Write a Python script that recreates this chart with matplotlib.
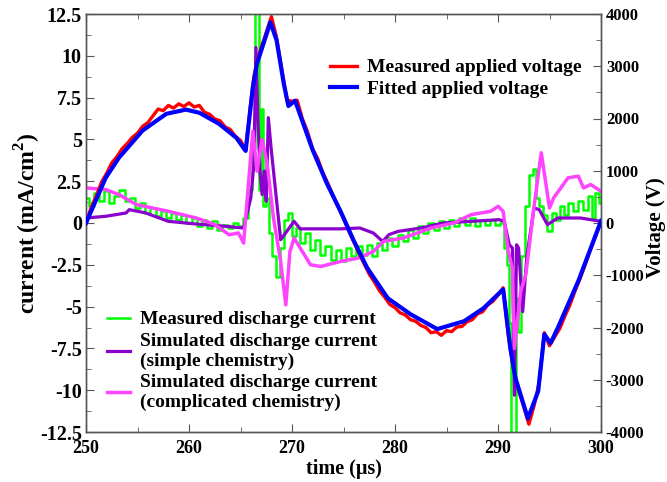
import matplotlib
matplotlib.use("Agg")
import matplotlib.pyplot as plt
from matplotlib.ticker import MultipleLocator, FuncFormatter

plt.rcParams['font.family'] = ['Liberation Serif', 'DejaVu Serif']
plt.rcParams['font.weight'] = 'bold'
plt.rcParams['axes.unicode_minus'] = False
plt.rcParams['mathtext.fontset'] = 'custom'
plt.rcParams['mathtext.rm'] = 'Liberation Serif:bold'
plt.rcParams['mathtext.bf'] = 'Liberation Serif:bold'

# ---------------- data ----------------
# Fitted applied voltage (V)
t_fit = [250, 251.9, 253.2, 255.5, 257.8, 259.7, 261, 262.9, 264.6, 265.5, 266.2, 266.6,
         267.9, 268.5, 269.2, 269.65, 270.3, 272, 273.4, 274.7, 276, 277.3, 279.3, 281.5,
         284.1, 286.7, 288.6, 290.5, 291.2, 291.7, 292.9, 293.9, 294.5, 295.1, 295.8, 297.8, 300]
v_fit = [0, 860, 1250, 1770, 2090, 2170, 2110, 1900, 1630, 1380, 2600, 3050,
         3840, 3500, 2670, 2240, 2340, 1400, 750, 230, -340, -860, -1440, -1745,
         -2030, -1880, -1630, -1270, -2400, -2970, -3740, -3220, -2130, -2300, -2010, -1110, 40]

# Measured applied voltage (V)
t_meas_v = [250, 250.5, 251, 251.5, 252, 252.5, 253, 253.5, 254, 254.5, 255, 255.5, 256, 256.5,
            257, 257.5, 258, 258.5, 259, 259.5, 260, 260.5, 261, 261.5, 262, 262.5, 263, 263.5,
            264, 264.5, 265, 265.5, 266, 266.3, 266.6, 267, 267.5, 268, 268.5, 269, 269.5, 270,
            270.5, 271, 271.5, 272, 272.5, 273, 273.5, 274, 274.5, 275, 275.5, 276, 276.5, 277,
            277.5, 278, 278.5, 279, 279.5, 280, 280.5, 281, 281.5, 282, 282.5, 283, 283.5, 284,
            284.5, 285, 285.5, 286, 286.5, 287, 287.5, 288, 288.5, 289, 289.5, 290, 290.5, 291,
            291.5, 292, 292.5, 293, 293.5, 294, 294.5, 295, 295.5, 296, 296.5, 297, 297.5, 298,
            298.5, 299, 299.5, 300]
v_meas = [0, 300, 520, 780, 950, 1150, 1270, 1420, 1520, 1640, 1720, 1850, 1920, 2050,
          2180, 2150, 2250, 2200, 2280, 2230, 2300, 2220, 2250, 2120, 2080, 1990, 1960, 1840,
          1790, 1660, 1580, 1400, 2300, 2800, 3100, 3350, 3650, 3950, 3550, 2950, 2350, 2330,
          2350, 2000, 1750, 1420, 1230, 960, 750, 520, 300, 90, -150, -360, -580, -780,
          -980, -1130, -1300, -1420, -1560, -1620, -1720, -1760, -1850, -1880, -1960, -2000, -2100, -2080,
          -2150, -2060, -2080, -1990, -1980, -1890, -1850, -1740, -1700, -1570, -1500, -1380, -1240, -2150,
          -2800, -3200, -3520, -3850, -3500, -3050, -2100, -2350, -2180, -2020, -1780, -1560, -1290, -1050,
          -780, -500, -240, 20]

# Measured discharge current (mA/cm^2)
t_meas_i = [250, 250.5, 251, 251.5, 252, 252.5, 253, 253.5, 254, 254.5, 255, 255.5, 256, 256.5,
            257, 257.5, 258, 258.5, 259, 259.5, 260, 260.5, 261, 261.5, 262, 262.5, 263, 263.5,
            264, 264.5, 265, 265.5, 266.0, 266.3, 266.5, 266.7, 266.9, 267.1, 267.3, 267.6, 267.9,
            268.3, 268.6, 269.0, 269.5, 269.8, 270.2, 270.5, 271, 271.5, 272, 272.5, 273, 273.5,
            274, 274.5, 275, 275.5, 276, 276.5, 277, 277.5, 278, 278.5, 279, 279.5, 280, 280.5,
            281, 281.5, 282, 282.5, 283, 283.5, 284, 284.5, 285, 285.5, 286, 286.5, 287, 287.5,
            288, 288.5, 289, 289.5, 290, 290.4, 290.7, 291.0, 291.2, 291.4, 291.6, 291.8, 292.1,
            292.4, 292.8, 293.2, 293.5, 293.8, 294.2, 294.6, 295.0, 295.4, 295.8, 296.2, 296.6,
            297, 297.5, 298, 298.5, 299, 299.3, 299.6, 300]
i_meas = [1.5, 1.0, 1.8, 1.3, 1.9, 1.2, 1.6, 2.0, 1.3, 1.5, 0.9, 1.2, 0.6, 0.9,
          0.4, 0.7, 0.3, 0.6, 0.2, 0.5, 0.0, 0.3, -0.2, 0.2, -0.3, 0.1, -0.4, -0.1,
          -0.3, 0.0, -0.2, 0.3, 2.0, 4.5, 13.5, 13.5, 2.0, 6.8, 1.0, 1.5, -0.6,
          -2.0, -3.2, -1.5, 0.2, 0.6, -0.8, -0.3, -1.2, -0.6, -1.6, -1.0, -1.9, -1.4,
          -2.2, -1.6, -2.3, -1.5, -2.0, -1.4, -1.9, -1.3, -2.0, -1.2, -1.6, -0.9, -1.4, -0.7,
          -1.1, -0.4, -0.9, -0.2, -0.6, 0.0, -0.4, 0.1, -0.3, 0.2, -0.2, 0.3, -0.1, 0.3,
          -0.2, 0.2, -0.1, 0.2, -0.1, 0.0, -1.5, -2.5, -6.0, -13.5, -13.5, -4.5, -6.5,
          -2.0, 1.0, 2.9, 3.2, 1.5, 1.0, 0.5, -0.5, 0.6, 0.2, 1.0, 0.5,
          1.2, 0.7, 1.3, 0.8, 1.6, 0.3, 1.8, 1.2]

# Simulated discharge current, simple chemistry
t_simple = [250, 251.9, 253.9, 254.2, 255.8, 258, 260.7, 263.6, 265.3, 266.0, 266.3, 266.5,
            266.7, 266.9, 267.1, 267.3, 267.5, 267.7, 268.0, 268.9, 270.2, 270.8, 274.7, 276.6,
            277.9, 278.8, 279.4, 280.3, 282.5, 284.7, 287.4, 290.1, 290.6, 291.1, 291.4, 291.6,
            291.8, 292.0, 292.4, 292.8, 293.5, 294.0, 294.8, 295.8, 298, 300]
i_simple = [0.3, 0.4, 0.6, 0.8, 0.6, 0.1, -0.06, -0.2, -0.3, 1.5, 3.5, 10.5,
            6.0, 3.0, 1.7, 3.1, 1.3, 6.3, 4.3, -1.0, 0.1, -0.35, -0.35, -0.3,
            -0.6, -1.1, -0.7, -0.5, -0.3, 0.0, 0.1, 0.2, 0.1, -1.3, -1.5, -10.3,
            -1.3, -1.5, -5.3, -2.0, 0.9, 0.8, -0.1, 0.3, 0.3, 0.1]

# Simulated discharge current, complicated chemistry
t_comp = [250, 251.9, 253.2, 254.9, 258, 260.7, 262.4, 263.9, 264.8, 265.3, 265.9, 266.2,
          266.6, 267.1, 267.6, 268.2, 268.9, 269.4, 269.8, 270.2, 271.8, 272.8, 274.7, 276.4,
          277.9, 278.9, 280.8, 283.5, 285.7, 287.4, 289.3, 290.0, 290.5, 291.0, 291.4, 291.6,
          292.2, 292.7, 293.5, 294.2, 295.0, 295.4, 296.8, 297.8, 298.3, 299.0, 300]
i_comp = [2.1, 2.0, 1.7, 1.1, 0.7, 0.3, -0.06, -0.7, -0.6, -1.2, 3.3, 5.5,
          3.1, 5.0, 3.5, 0.3, -2.3, -4.9, -1.7, -0.9, -2.5, -2.6, -2.3, -2.1,
          -1.7, -1.1, -0.9, -0.3, 0.0, 0.5, 0.7, 1.0, 0.7, -1.7, -2.7, -7.5,
          -4.1, -3.1, 1.0, 4.2, 0.9, 1.5, 2.7, 2.8, 2.1, 2.3, 1.9]

# ---------------- figure ----------------
fig = plt.figure(figsize=(6.67, 4.82), dpi=100)
ax = fig.add_axes([86/667, 50/482, 515/667, 418/482])
ax2 = ax.twinx()

spine_col = '#555555'
l_meas, = ax.plot(t_meas_i, i_meas, color='#00ff00', lw=1.8, zorder=2, drawstyle='steps-mid')
l_simple, = ax.plot(t_simple, i_simple, color='#8a00cc', lw=2.3, zorder=3)
l_comp, = ax.plot(t_comp, i_comp, color='#ff44ff', lw=2.5, zorder=4)

l_vm, = ax2.plot(t_meas_v, v_meas, color='#ff0000', lw=2.4, zorder=2)
l_vf, = ax2.plot(t_fit, v_fit, color='#0000ff', lw=3.0, zorder=3)

ax.set_xlim(250, 300)
ax.set_ylim(-12.5, 12.5)
ax2.set_ylim(-4000, 4000)

ax.xaxis.set_major_locator(MultipleLocator(10))
ax.xaxis.set_minor_locator(MultipleLocator(5))
ax.yaxis.set_major_locator(MultipleLocator(2.5))
ax.yaxis.set_minor_locator(MultipleLocator(1.25))
ax2.yaxis.set_major_locator(MultipleLocator(1000))
ax2.yaxis.set_minor_locator(MultipleLocator(500))
ax.yaxis.set_major_formatter(FuncFormatter(lambda v, p: f"{v:g}"))
ax2.yaxis.set_major_formatter(FuncFormatter(lambda v, p: f"{v:g}"))

for a in (ax, ax2):
    for s in a.spines.values():
        s.set_color(spine_col)
        s.set_linewidth(1.0)
ax.tick_params(axis='both', which='both', direction='in', colors=spine_col,
               labelcolor='black', top=True, right=False)
ax.tick_params(axis='y', labelsize=14.5, pad=3)
ax.tick_params(axis='x', labelsize=13, pad=6)
ax.tick_params(which='major', length=6)
ax.tick_params(which='minor', length=3.5)
ax2.tick_params(axis='y', which='both', direction='in', colors=spine_col,
                labelcolor='black', labelsize=12, pad=3.5)
ax2.tick_params(which='major', length=6)
ax2.tick_params(which='minor', length=3.5)
for lbl in ax.get_xticklabels() + ax.get_yticklabels() + ax2.get_yticklabels():
    lbl.set_fontweight('bold')

ax.set_xlabel('time (μs)', fontsize=14.5, fontweight='bold', labelpad=1)
ax.set_ylabel(r'current (mA/cm$^{2}$)', fontsize=17, fontweight='bold')
ax.yaxis.set_label_coords(-0.084, 0.5)
ax2.set_ylabel('Voltage (V)', fontsize=15, fontweight='bold')
ax2.yaxis.set_label_coords(1.087, 0.49)

prop = {'family': 'Liberation Serif', 'weight': 'bold', 'size': 14}
leg1 = ax2.legend([l_vm, l_vf], ['Measured applied voltage', 'Fitted applied voltage'],
                  loc='upper left', bbox_to_anchor=(0.474, 0.893), frameon=False,
                  borderpad=0, borderaxespad=0, handlelength=1.4, handletextpad=0.5,
                  labelspacing=0.2, prop=prop)

leg2 = ax2.legend([l_meas, l_simple, l_comp],
                  ['Measured discharge current',
                   'Simulated discharge current\n(simple chemistry)',
                   'Simulated discharge current\n(complicated chemistry)'],
                  loc='upper left', bbox_to_anchor=(0.041, 0.29), frameon=False,
                  borderpad=0, borderaxespad=0, handlelength=1.2, handletextpad=0.5,
                  labelspacing=0.25, prop=prop)
for t in leg2.get_texts():
    t.set_linespacing(1.15)
ax2.add_artist(leg1)

fig.savefig('out.png', dpi=100)
